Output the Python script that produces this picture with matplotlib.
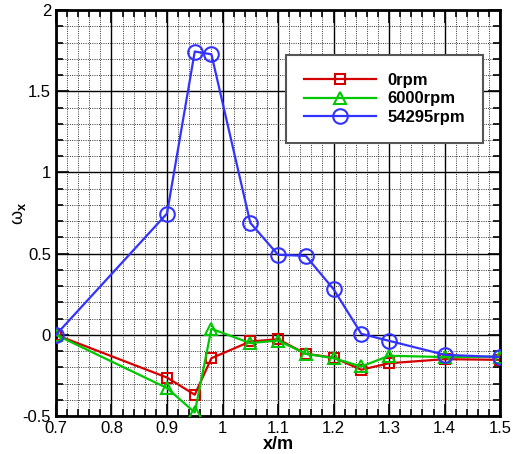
import numpy as np
import matplotlib.pyplot as plt
from matplotlib.ticker import MultipleLocator, FormatStrFormatter

plt.rcParams['font.family'] = ['Liberation Sans', 'DejaVu Sans']
plt.rcParams['mathtext.fontset'] = 'custom'
plt.rcParams['mathtext.rm'] = 'Liberation Sans'
plt.rcParams['mathtext.bf'] = 'Liberation Sans:bold'

x = [0.7, 0.9, 0.95, 0.98, 1.05, 1.1, 1.15, 1.2, 1.25, 1.3, 1.4, 1.5]
w_0rpm = [0.0, -0.263, -0.369, -0.144, -0.041, -0.027, -0.117, -0.14, -0.215, -0.175, -0.15, -0.154]
w_6000rpm = [0.0, -0.328, -0.478, 0.037, -0.051, -0.035, -0.117, -0.144, -0.195, -0.129, -0.137, -0.134]
w_54295rpm = [0.0, 0.747, 1.745, 1.728, 0.69, 0.493, 0.486, 0.281, 0.006, -0.037, -0.123, -0.137]

fig = plt.figure(figsize=(5.13, 4.54), dpi=100)
ax = fig.add_axes([0.109, 0.0837, 0.866, 0.894])

ax.plot(x, w_0rpm, color='#d40000', lw=1.6, marker='s', ms=7.5,
        mfc='none', mew=1.5, label='0rpm', zorder=3)
ax.plot(x, w_6000rpm, color='#00c800', lw=1.6, marker='^', ms=9,
        mfc='none', mew=1.5, label='6000rpm', zorder=4)
ax.plot(x, w_54295rpm, color='#3333ff', lw=1.6, marker='o', ms=10.5,
        mfc='none', mew=1.5, label='54295rpm', zorder=5)

ax.set_xlim(0.7, 1.5)
ax.set_ylim(-0.5, 2)
ax.xaxis.set_major_locator(MultipleLocator(0.1))
ax.xaxis.set_minor_locator(MultipleLocator(0.02))
ax.yaxis.set_major_locator(MultipleLocator(0.5))
ax.yaxis.set_minor_locator(MultipleLocator(0.1))
ax.xaxis.set_major_formatter(FormatStrFormatter('%g'))
ax.yaxis.set_major_formatter(FormatStrFormatter('%g'))

ax.grid(which='major', color='black', lw=1.0, ls='-')
ax.grid(which='minor', color='#333333', lw=0.7, ls=(0, (1, 1.3)))
ax.set_axisbelow(True)

ax.tick_params(which='both', direction='in', top=True, right=True,
               labelsize=12, width=1.2)
ax.tick_params(which='major', length=9)
ax.tick_params(which='minor', length=5)
for s in ax.spines.values():
    s.set_linewidth(2)

ax.set_xlabel('x/m', fontsize=13, fontweight='bold', labelpad=0)
ax.set_ylabel('ω$_{\\mathbf{x}}$', fontsize=13)
ax.yaxis.set_label_coords(-0.062, 0.5)

leg = ax.legend(loc='upper right', bbox_to_anchor=(0.962, 0.89),
                prop={'weight': 'bold', 'size': 12}, fancybox=False,
                edgecolor='#555555', framealpha=1, handlelength=4.3,
                borderpad=1.1, labelspacing=0.2, handletextpad=0.7,
                borderaxespad=0)
leg.get_frame().set_linewidth(1.5)

fig.savefig('out.png', dpi=100)
